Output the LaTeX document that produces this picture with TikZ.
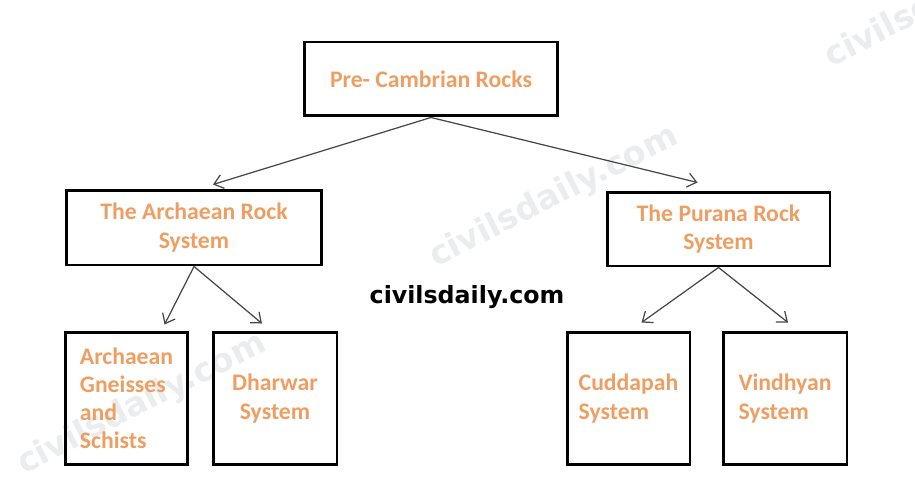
\documentclass[tikz,border=0pt]{standalone}
\usepackage{fontspec}
\setmainfont{Carlito}
\newfontfamily\sitefont{DejaVu Sans}
\usetikzlibrary{arrows.meta,calc}

\definecolor{rockorange}{RGB}{238,158,98}
\definecolor{arrowgray}{RGB}{70,70,70}
\definecolor{markgray}{RGB}{234,236,238}

\tikzset{
  rockbox/.style={draw, line width=1.7pt, text=rockorange, inner sep=0pt,
    font=\bfseries\fontsize{13.5}{16}\selectfont},
  rockarrow/.style={-{Straight Barb[length=5pt,width=8pt]}, line width=0.7pt, draw=arrowgray},
  watermark/.style={text=markgray, font=\sitefont\bfseries\fontsize{19}{22}\selectfont, rotate=27}
}

\begin{document}
\begin{tikzpicture}[x=0.02cm,y=-0.02cm]
    \useasboundingbox (0,0) rectangle (915,486);

    % Faint watermarks
    \node[watermark] (markmid) at (554,197) {civilsdaily.com};
    \node[watermark] (marklow) at (142,404) {civilsdaily.com};
    \node[watermark, anchor=south west] (marktop) at (832,82) {civilsdaily.com};

    % Draw the boxes
    \node[rockbox, minimum width=5.08cm, minimum height=1.48cm] (precambrian) at (431,79) {Pre- Cambrian Rocks};
    \node[rockbox, minimum width=5.12cm, minimum height=1.5cm, align=center] (archaean) at (194,227.5) {The Archaean Rock\\System};
    \node[rockbox, minimum width=4.46cm, minimum height=1.48cm, align=center] (purana) at (718.5,229) {The Purana Rock\\System};
    \node[rockbox, minimum width=2.46cm, minimum height=2.66cm, align=left] (gneisses) at (126.5,398.5) {Archaean\\Gneisses\\and\\Schists};
    \node[rockbox, minimum width=2.48cm, minimum height=2.66cm, align=center] (dharwar) at (275,398.5) {Dharwar\\System};
    \node[rockbox, minimum width=2.46cm, minimum height=2.66cm, align=left] (cuddapah) at (628.5,398.5) {Cuddapah\\System};
    \node[rockbox, minimum width=2.48cm, minimum height=2.66cm, align=left] (vindhyan) at (785,398.5) {Vindhyan\\System};

    % Site name
    \node[font=\sitefont\bfseries\fontsize{13.5}{16}\selectfont] (site) at (467,297) {civilsdaily.com};

    % Connect boxes
    \draw[rockarrow] (precambrian.south) -- ($(archaean.north)+(19,-4)$);
    \draw[rockarrow] (precambrian.south) -- ($(purana.north)+(-21,-8)$);
    \draw[rockarrow] (archaean.south) -- ($(gneisses.north)+(38,-6)$);
    \draw[rockarrow] (archaean.south) -- ($(dharwar.north)+(-13,-7)$);
    \draw[rockarrow] (purana.south) -- ($(cuddapah.north)+(13,-8)$);
    \draw[rockarrow] (purana.south) -- ($(vindhyan.north)+(3,-8)$);
\end{tikzpicture}
\end{document}
